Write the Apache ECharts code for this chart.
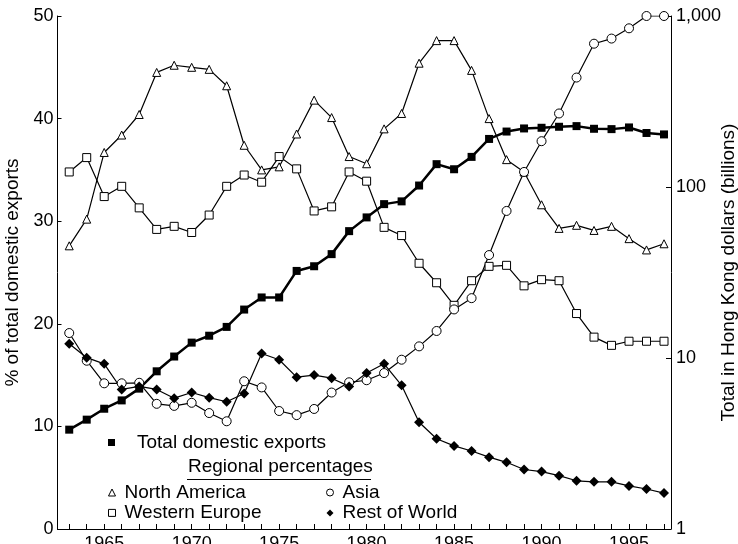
<!DOCTYPE html>
<html>
<head>
<meta charset="utf-8">
<script src="https://cdn.jsdelivr.net/npm/echarts@6/dist/echarts.min.js"></script>
<style>
  html, body { margin: 0; padding: 0; background: #fff; }
  #chart { width: 738px; height: 544px; }
</style>
</head>
<body>
<div id="chart"></div>
<script>
// Hong Kong domestic exports, 1963-1997
const years = [1963,1964,1965,1966,1967,1968,1969,1970,1971,1972,1973,1974,1975,1976,1977,1978,1979,1980,
  1981,1982,1983,1984,1985,1986,1987,1988,1989,1990,1991,1992,1993,1994,1995,1996,1997];

// Total domestic exports, HK$ billions (right, log scale)
const totalExports = [3.81,4.36,5.05,5.65,6.62,8.36,10.2,12.3,13.5,15.2,19.2,22.6,22.6,32.3,34.4,40.5,55.2,66.4,
  79.4,82.4,102,136,127,150,191,211,220,222,225,227,219,218,223,207,203];

// Regional shares, % of total domestic exports (left scale)
const northAmerica = [27.6,30.2,36.7,38.4,40.4,44.5,45.2,45.0,44.8,43.2,37.4,35.0,35.3,38.5,41.8,40.1,36.3,35.6,
  39.0,40.5,45.4,47.6,47.6,44.7,40.0,36.0,34.8,31.6,29.3,29.6,29.1,29.5,28.3,27.2,27.8];
const westernEurope = [34.8,36.2,32.4,33.4,31.3,29.2,29.5,28.9,30.6,33.4,34.5,33.8,36.3,35.1,31.0,31.4,34.8,33.9,
  29.4,28.6,25.9,24.0,21.8,24.2,25.6,25.7,23.7,24.3,24.2,21.0,18.7,17.9,18.3,18.3,18.3];
const asia = [19.1,16.4,14.2,14.2,14.25,12.2,12.0,12.3,11.3,10.5,14.4,13.8,11.5,11.1,11.7,13.3,14.3,14.5,
  15.2,16.5,17.8,19.3,21.4,22.5,26.7,31.0,34.8,37.8,40.5,44.0,47.3,47.8,48.8,50.0,50.0];
const restOfWorld = [18.05,16.7,16.1,13.6,13.9,13.6,12.75,13.3,12.8,12.4,13.2,17.1,16.5,14.8,15.0,14.7,13.9,15.2,
  16.1,14.0,10.4,8.8,8.1,7.6,7.0,6.5,5.8,5.6,5.2,4.7,4.6,4.6,4.2,3.9,3.5];

// Axis ticks
const yearTicks = years.slice();
const yearLabels = [1965,1970,1975,1980,1985,1990,1995];

const FONT = '"Liberation Sans", Arial, Helvetica, sans-serif';
const pairs = vals => years.map((y, i) => [y, vals[i]]);

const openMarker = { color: '#fff', borderColor: '#000', borderWidth: 1 };
const solidMarker = { color: '#000', borderColor: '#000', borderWidth: 0 };

function regional(name, vals, symbol, size) {
  return {
    name, type: 'line', yAxisIndex: 0, data: pairs(vals),
    symbol, symbolSize: size, showAllSymbol: true,
    lineStyle: { color: '#000', width: 1.2 },
    itemStyle: symbol === 'diamond' ? solidMarker : openMarker,
    emphasis: { disabled: true }
  };
}

const legendText = { fontFamily: FONT, fontSize: 19, color: '#000', padding: [0, 0, 0, 4] };
const legendBase = {
  orient: 'vertical', padding: 0, itemWidth: 7, itemHeight: 7, itemGap: 1.4, selectedMode: false,
  textStyle: legendText
};
const openIcon = { color: '#fff', borderColor: '#000', borderWidth: 1 };
const solidIcon = { color: '#000', borderWidth: 0 };

const chart = echarts.init(document.getElementById('chart'), null, { renderer: 'canvas' });
chart.setOption({
  backgroundColor: '#fff',
  animation: false,
  grid: { left: 57.5, right: 67, top: 16, bottom: 15, containLabel: false, outerBoundsMode: 'none' },
  xAxis: {
    type: 'value', min: 1962.33, max: 1997.4,
    axisLine: { lineStyle: { color: '#000', width: 1 } },
    axisTick: { inside: true, length: 5, customValues: yearTicks, lineStyle: { color: '#000' } },
    axisLabel: {
      customValues: yearLabels, margin: 6, color: '#000', fontFamily: FONT, fontSize: 18,
      formatter: v => String(v)
    },
    splitLine: { show: false }
  },
  yAxis: [
    {
      type: 'value', min: 0, max: 50, interval: 10, position: 'left',
      name: '% of total domestic exports', nameLocation: 'middle', nameGap: 35,
      nameMoveOverlap: false,
      nameTextStyle: { fontFamily: FONT, fontSize: 19, color: '#000' },
      axisLine: { show: true, lineStyle: { color: '#000' } },
      axisTick: { show: true, inside: true, length: 4, lineStyle: { color: '#000' } },
      axisLabel: { margin: 4, color: '#000', fontFamily: FONT, fontSize: 18 },
      splitLine: { show: false }
    },
    {
      type: 'log', logBase: 10, min: 1, max: 1000, position: 'right',
      name: 'Total in Hong Kong dollars (billions)', nameLocation: 'middle', nameGap: 48,
      nameRotate: 90, nameMoveOverlap: false,
      nameTextStyle: { fontFamily: FONT, fontSize: 19, color: '#000' },
      axisLine: { show: true, lineStyle: { color: '#000' } },
      axisTick: { show: true, inside: true, length: 5, lineStyle: { color: '#000' } },
      minorTick: { show: false },
      axisLabel: {
        margin: 5, color: '#000', fontFamily: FONT, fontSize: 18,
        formatter: v => Math.round(v).toLocaleString('en-US')
      },
      splitLine: { show: false }
    }
  ],
  legend: [
    Object.assign({}, legendBase, {
      left: 108, top: 433,
      data: [{ name: 'Total domestic exports', icon: 'rect', itemStyle: solidIcon }],
      textStyle: Object.assign({}, legendText, { padding: [0, 0, 0, 17] })
    }),
    Object.assign({}, legendBase, {
      left: 108, top: 483,
      data: [
        { name: 'North America', icon: 'triangle', itemStyle: openIcon },
        { name: 'Western Europe', icon: 'rect', itemStyle: openIcon }
      ]
    }),
    Object.assign({}, legendBase, {
      left: 326, top: 483,
      data: [
        { name: 'Asia', icon: 'circle', itemStyle: openIcon },
        { name: 'Rest of World', icon: 'diamond', itemStyle: solidIcon }
      ]
    })
  ],
  graphic: [
    {
      type: 'text', left: 188, top: 457,
      style: { text: 'Regional percentages', fontFamily: FONT, fontSize: 19, fill: '#000' }
    },
    {
      type: 'line', shape: { x1: 187, y1: 479.5, x2: 371, y2: 479.5 },
      style: { stroke: '#000', lineWidth: 1.2 }
    }
  ],
  series: [
    regional('North America', northAmerica, 'triangle', 8),
    regional('Western Europe', westernEurope, 'rect', 8),
    regional('Asia', asia, 'circle', 9),
    regional('Rest of World', restOfWorld, 'diamond', 10),
    {
      name: 'Total domestic exports', type: 'line', yAxisIndex: 1, data: pairs(totalExports),
      symbol: 'rect', symbolSize: 8, showAllSymbol: true,
      lineStyle: { color: '#000', width: 2.5 },
      itemStyle: solidMarker, emphasis: { disabled: true }
    }
  ]
});
</script>
</body>
</html>
